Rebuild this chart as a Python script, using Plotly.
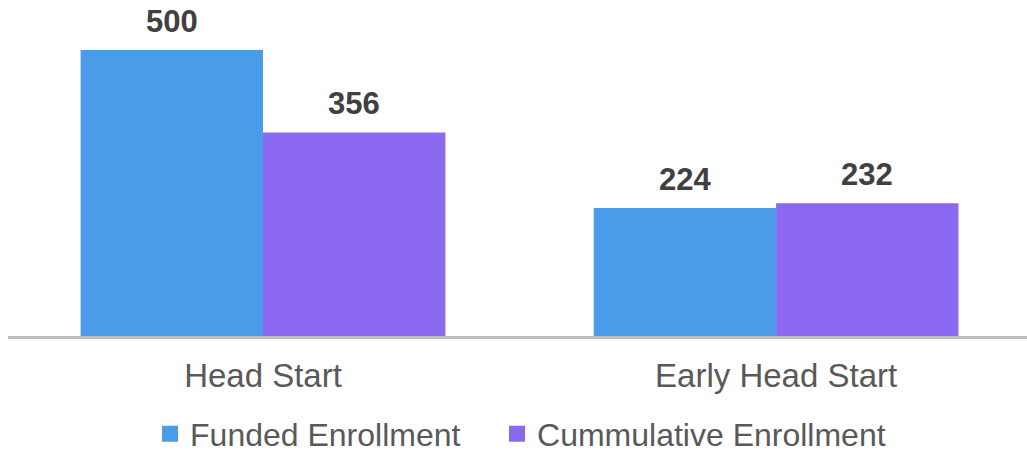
import plotly.graph_objects as go

categories = ["Head Start", "Early Head Start"]
funded = [500, 224]
cumulative = [356, 232]
series_names = ["Funded Enrollment", "Cummulative Enrollment"]
colors = ["#4A9BE8", "#8B68F0"]

BARGAP = 0.289
bar_w = (1 - BARGAP) / 2

fig = go.Figure()
for name, vals, col in zip(series_names, [funded, cumulative], colors):
    fig.add_trace(go.Bar(
        x=categories, y=vals, name=name,
        marker=dict(color=col, line=dict(width=0)),
        hoverinfo="skip", showlegend=False,
    ))

# legend entries (square swatches)
for j, (name, col) in enumerate(zip(series_names, colors)):
    fig.add_trace(go.Scatter(
        x=[None], y=[None], mode="markers", name=name,
        marker=dict(symbol="square", size=16, color=col, line=dict(width=0)),
        legend="legend" if j == 0 else "legend2",
        hoverinfo="skip",
    ))

# value labels
for k, vals in enumerate([funded, cumulative]):
    off = (k - 0.5) * bar_w
    for i, v in enumerate(vals):
        fig.add_annotation(
            x=i + off, y=v, text=f"<b>{v}</b>", showarrow=False,
            yanchor="bottom", yshift=9,
            font=dict(family="Liberation Sans, Arial", size=31, color="#404040"),
        )

legend_common = dict(
    orientation="h", y=-0.3006, yanchor="middle", xanchor="left",
    font=dict(size=32, color="#595959"),
    bgcolor="rgba(0,0,0,0)",
)

fig.update_layout(
    width=1027, height=452,
    margin=dict(l=8, r=0, t=10, b=116, autoexpand=False),
    paper_bgcolor="white", plot_bgcolor="white",
    barmode="group", bargap=BARGAP, bargroupgap=0,
    font=dict(family="Liberation Sans, Arial", color="#595959"),
    xaxis=dict(
        range=[-0.497, 1.489], automargin=False,
        showline=True, linecolor="#BFBFBF", linewidth=3,
        showgrid=False, zeroline=False, ticks="",
        tickfont=dict(size=33, color="#595959"),
        ticklabelstandoff=8,
    ),
    yaxis=dict(range=[0, 570], visible=False),
    showlegend=True,
    legend=dict(x=0.1394, **legend_common),
    legend2=dict(x=0.4799, **legend_common),
)

fig.write_html(
    "out.html",
    config={"displayModeBar": False},
    post_script="document.body.style.margin='0px';document.body.style.overflow='hidden';",
)
